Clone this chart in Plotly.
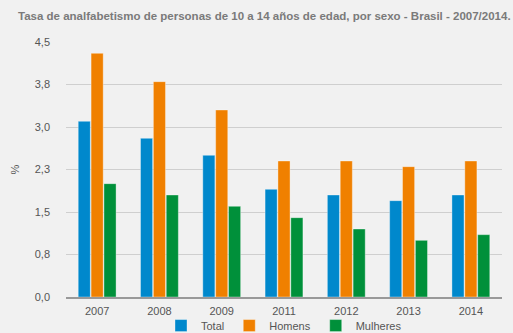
import plotly.graph_objects as go

years = ["2007", "2008", "2009", "2011", "2012", "2013", "2014"]
total = [3.1, 2.8, 2.5, 1.9, 1.8, 1.7, 1.8]
homens = [4.3, 3.8, 3.3, 2.4, 2.4, 2.3, 2.4]
mulheres = [2.0, 1.8, 1.6, 1.4, 1.2, 1.0, 1.1]
tick_vals = [0, 0.75, 1.5, 2.25, 3.0, 3.75, 4.5]
tick_text = ["0,0", "0,8", "1,5", "2,3", "3,0", "3,8", "4,5"]

series = [("Total", total, "#0088cc"), ("Homens", homens, "#f08000"), ("Mulheres", mulheres, "#00903a")]

fig = go.Figure()
for name, vals, col in series:
    fig.add_trace(go.Bar(x=years, y=vals, name=name, marker=dict(color=col, line=dict(color="rgba(255,255,255,0.35)", width=1))))

fig.update_layout(
    width=513, height=333,
    margin=dict(l=66, r=11, t=42, b=36, autoexpand=False),
    paper_bgcolor="#f1f1f1", plot_bgcolor="#f1f1f1",
    barmode="group", bargap=0.38, bargroupgap=0.06,
    font=dict(family="Liberation Sans, Arial", size=11, color="#555"),
    title=dict(text="<b>Tasa de analfabetismo de personas de 10 a 14 años de edad, por sexo - Brasil - 2007/2014.</b>",
               x=18/513, xanchor="left", y=1-16/333, yanchor="middle",
               font=dict(size=11.5, color="#7a7a7a")),
    showlegend=True,
    legend=dict(orientation="h", x=0.5, xanchor="center", y=-0.112, yanchor="middle",
                font=dict(size=11, color="#555"), bgcolor="rgba(0,0,0,0)"),
    xaxis=dict(showgrid=False, showline=True, linecolor="#999", linewidth=2, ticks="",
               ticklabelstandoff=3, tickfont=dict(size=11, color="#555")),
    yaxis=dict(range=[0, 4.5], tickvals=tick_vals, ticktext=tick_text, showgrid=True,
               gridcolor="#cfcfcf", gridwidth=1, zeroline=False, ticks="",
               ticklabelstandoff=15, tickfont=dict(size=11, color="#555")),
    annotations=[dict(text="%", x=-0.117, xref="paper", y=0.5, yref="paper", textangle=-90,
                      showarrow=False, font=dict(size=11, color="#555"), xanchor="center", yanchor="middle")],
)
fig.write_html("out.html")
